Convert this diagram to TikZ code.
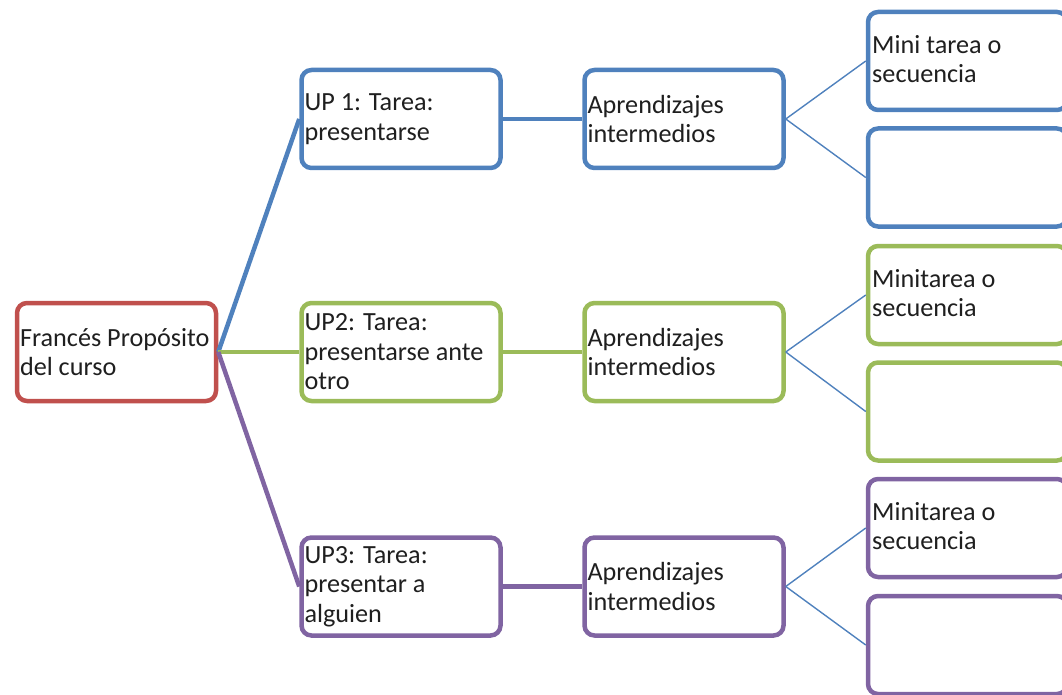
\documentclass[tikz,border=0pt]{standalone}
\usepackage{fontspec}
\setmainfont{Carlito}
\definecolor{cred}{HTML}{C0504D}
\definecolor{cblue}{HTML}{4F81BD}
\definecolor{cgreen}{HTML}{9BBB59}
\definecolor{cpurple}{HTML}{8064A2}
\begin{document}
\begin{tikzpicture}[x=1pt,y=-1pt,
  box/.style={draw, line width=4.5pt, rounded corners=10pt, fill=white,
    minimum width=199pt, minimum height=98pt, inner sep=0pt,
    text width=193pt, align=flush left, text=black!88,
    font=\fontsize{26.2}{29.5}\selectfont},
  leaftext/.style={anchor=north west, inner sep=0pt, align=flush left, text=black!88,
    font=\fontsize{26.2}{29.5}\selectfont},
  thick link/.style={line width=4.5pt},
  thin link/.style={line width=1.4pt, cblue}]
\useasboundingbox (0,0) rectangle (1062,695);
\clip (0,0) rectangle (1062,695);

% root
\node[box, draw=cred] (root) at (116.5,352) {Francés Propósito\\del curso};

% units of the course
\node[box, draw=cblue]   (up1) at (401,119)   {UP 1: Tarea:\\presentarse};
\node[box, draw=cgreen]  (up2) at (401,352)   {UP2: Tarea:\\presentarse ante\\otro};
\node[box, draw=cpurple] (up3) at (401,586.5) {UP3: Tarea:\\presentar a\\alguien};

% intermediate learning
\node[box, draw=cblue]   (ap1) at (684,119)   {Aprendizajes\\intermedios};
\node[box, draw=cgreen]  (ap2) at (684,352)   {Aprendizajes\\intermedios};
\node[box, draw=cpurple] (ap3) at (684,586.5) {Aprendizajes\\intermedios};

% tasks
\node[box, draw=cblue]   (l1a) at (967.5,61)    {};
\node[box, draw=cblue]   (l1b) at (967.5,177.5) {};
\node[box, draw=cgreen]  (l2a) at (967.5,295)   {};
\node[box, draw=cgreen]  (l2b) at (967.5,411.5) {};
\node[box, draw=cpurple] (l3a) at (967.5,528)   {};
\node[box, draw=cpurple] (l3b) at (967.5,645)   {};

\node[leaftext] (t1a) at (872,35)  {Mini tarea o\\secuencia};
\node[leaftext] (t2a) at (872,269) {Minitarea o\\secuencia};
\node[leaftext] (t3a) at (872,502) {Minitarea o\\secuencia};

% connectors
\draw[thick link, cblue]   (root.east) -- (up1.west);
\draw[thick link, cgreen]  (root.east) -- (up2.west);
\draw[thick link, cpurple] (root.east) -- (up3.west);

\draw[thick link, cblue]   (up1.east) -- (ap1.west);
\draw[thick link, cgreen]  (up2.east) -- (ap2.west);
\draw[thick link, cpurple] (up3.east) -- (ap3.west);

\draw[thin link] (ap1.east) -- (l1a.west);
\draw[thin link] (ap1.east) -- (l1b.west);
\draw[thin link] (ap2.east) -- (l2a.west);
\draw[thin link] (ap2.east) -- (l2b.west);
\draw[thin link] (ap3.east) -- (l3a.west);
\draw[thin link] (ap3.east) -- (l3b.west);
\end{tikzpicture}
\end{document}
